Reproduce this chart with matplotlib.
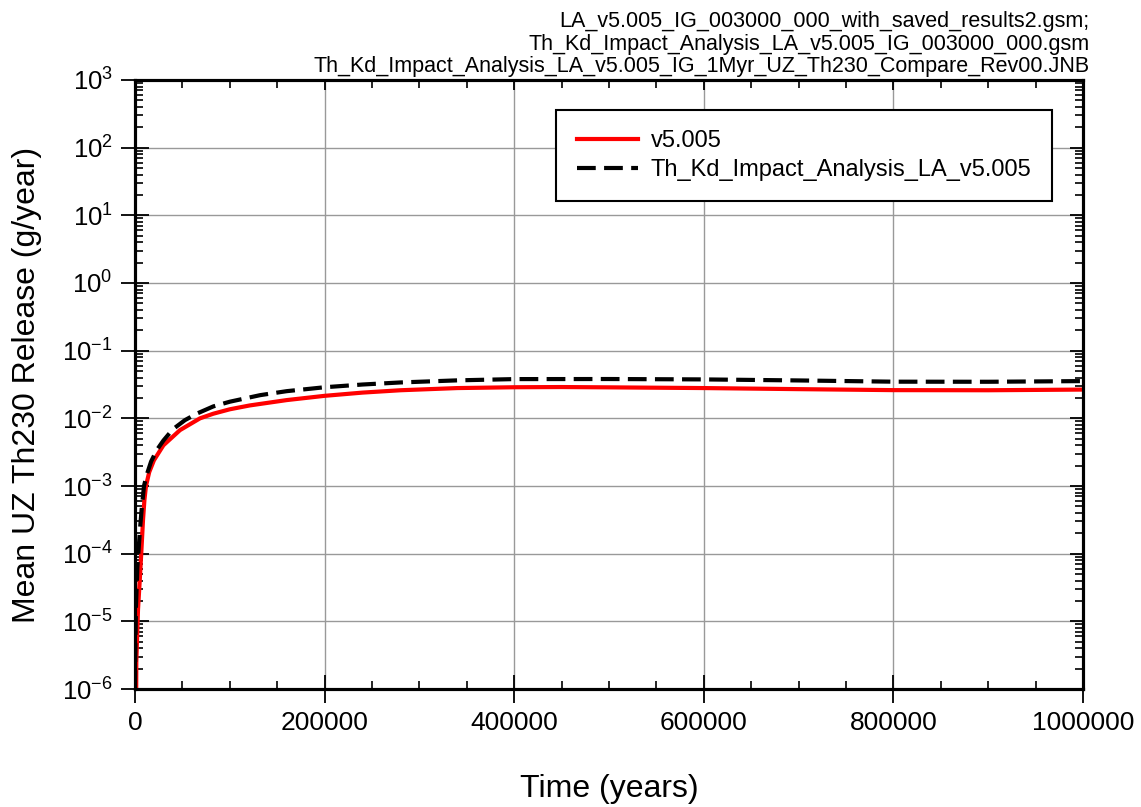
import numpy as np
import matplotlib.pyplot as plt
from matplotlib.ticker import LogLocator, MultipleLocator, NullFormatter, FuncFormatter

plt.rcParams['font.family'] = ['Liberation Sans', 'DejaVu Sans']
plt.rcParams['mathtext.fontset'] = 'custom'
plt.rcParams['mathtext.rm'] = 'Liberation Sans'
plt.rcParams['mathtext.it'] = 'Liberation Sans:italic'
plt.rcParams['axes.unicode_minus'] = False

# red curve: v5.005
t_base = [1300, 1400, 3200, 5000, 6600, 8500, 10000, 11600, 15000, 20000, 30000,
          47500, 68600, 82600, 100000, 121000, 160000, 200000, 240000, 280000,
          340000, 400000, 450000, 500000, 600000, 700000, 800000, 900000, 1000000]
r_base = [1.0e-6, 2.5e-6, 1.5e-5, 4.0e-5, 1.0e-4, 3.2e-4, 6.3e-4, 1.0e-3,
          1.6e-3, 2.4e-3, 4.0e-3, 6.7e-3, 1.0e-2, 1.17e-2, 1.36e-2, 1.55e-2,
          1.86e-2, 2.15e-2, 2.4e-2, 2.6e-2, 2.8e-2, 2.88e-2, 2.9e-2, 2.87e-2,
          2.8e-2, 2.7e-2, 2.61e-2, 2.6e-2, 2.66e-2]

# black dashed curve: Th_Kd_Impact_Analysis_LA_v5.005
t_kd = [0, 300, 1000, 2500, 4000, 5500, 7000, 9500, 12300, 17000, 23000, 30000,
        40000, 52700, 65000, 82600, 100000, 132000, 160000, 200000, 240000,
        280000, 340000, 400000, 500000, 600000, 700000, 800000, 900000, 1000000]
r_kd = [1.0e-6, 3.0e-6, 1.6e-5, 6.3e-5, 1.25e-4, 2.5e-4, 4.5e-4, 1.0e-3,
        1.45e-3, 2.3e-3, 3.4e-3, 4.7e-3, 6.9e-3, 9.4e-3, 1.17e-2, 1.5e-2,
        1.76e-2, 2.2e-2, 2.52e-2, 2.88e-2, 3.16e-2, 3.39e-2, 3.64e-2, 3.8e-2,
        3.81e-2, 3.76e-2, 3.63e-2, 3.48e-2, 3.47e-2, 3.55e-2]

header = ("LA_v5.005_IG_003000_000_with_saved_results2.gsm;\n"
          "Th_Kd_Impact_Analysis_LA_v5.005_IG_003000_000.gsm\n"
          "Th_Kd_Impact_Analysis_LA_v5.005_IG_1Myr_UZ_Th230_Compare_Rev00.JNB")

fig = plt.figure(figsize=(11.41, 8.07), dpi=100)
ax = fig.add_axes([0.1183, 0.1462, 0.8309, 0.7547])

ax.plot(t_base, r_base, color='red', lw=3, label='v5.005', zorder=3)
ax.plot(t_kd, r_kd, color='black', lw=3, dashes=(4.5, 2),
        label='Th_Kd_Impact_Analysis_LA_v5.005', zorder=4)

ax.set_yscale('log')
ax.set_xlim(0, 1000000)
ax.set_ylim(1e-6, 1e3)
ax.xaxis.set_major_locator(MultipleLocator(200000))
ax.xaxis.set_minor_locator(MultipleLocator(50000))
ax.xaxis.set_major_formatter(FuncFormatter(lambda v, p: '%d' % round(v)))
ax.yaxis.set_major_locator(LogLocator(base=10, numticks=20))
ax.yaxis.set_minor_locator(LogLocator(base=10, subs=np.arange(2, 10), numticks=20))
ax.yaxis.set_major_formatter(FuncFormatter(lambda v, p: r'$\mathregular{10^{%d}}$' % round(np.log10(v))))
ax.yaxis.set_minor_formatter(NullFormatter())

ax.grid(True, which='major', color='#999999', lw=1)
ax.set_axisbelow(True)

ax.tick_params(which='major', direction='inout', length=20, width=1.3, labelsize=19, pad=6)
ax.tick_params(axis='y', which='major', labelsize=18.5)
ax.tick_params(which='minor', direction='in', length=6, width=1.2)
ax.tick_params(top=False, right=False, which='both')
for s in ax.spines.values():
    s.set_linewidth(2.2)

# right and top axes carry inward ticks only
axr = ax.twinx()
axr.set_yscale('log')
axr.set_ylim(1e-6, 1e3)
axr.yaxis.set_major_locator(LogLocator(base=10, numticks=20))
axr.yaxis.set_minor_locator(LogLocator(base=10, subs=np.arange(2, 10), numticks=20))
axr.tick_params(which='major', direction='in', length=9.5, width=1.3, labelright=False)
axr.tick_params(which='minor', direction='in', length=6, width=1.2)
axr.yaxis.set_major_formatter(NullFormatter())
axr.yaxis.set_minor_formatter(NullFormatter())

axt = ax.twiny()
axt.set_xlim(0, 1000000)
axt.xaxis.set_major_locator(MultipleLocator(200000))
axt.xaxis.set_minor_locator(MultipleLocator(50000))
axt.tick_params(which='major', direction='in', length=7, width=1.3, labeltop=False)
axt.tick_params(which='minor', direction='in', length=6, width=1.2)
for a in (axr, axt):
    for s in a.spines.values():
        s.set_linewidth(2.2)

ax.set_xlabel('Time (years)', fontsize=23, labelpad=28)
ax.set_ylabel('Mean UZ Th230 Release (g/year)', fontsize=23, labelpad=14)

leg = axt.legend(*ax.get_legend_handles_labels(), loc='upper right',
                 bbox_to_anchor=(0.967, 0.951), borderaxespad=0, fontsize=17,
                 fancybox=False, framealpha=1, edgecolor='black',
                 handlelength=2.6, handletextpad=0.55, labelspacing=0.3,
                 borderpad=0.85)
leg.get_frame().set_linewidth(1.5)

fig.text(0.955, 0.986, header, ha='right', va='top', fontsize=15.5, linespacing=1.1)

fig.savefig('out.png', dpi=100)
